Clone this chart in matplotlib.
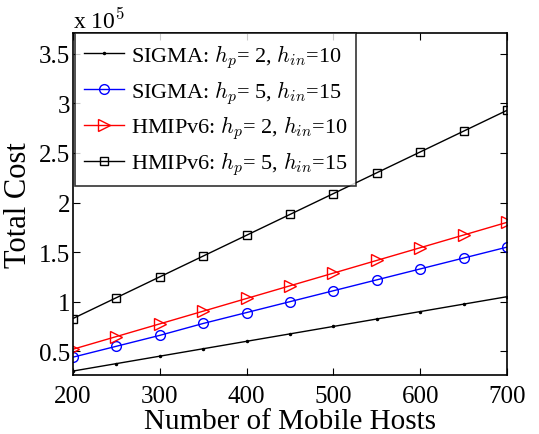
import numpy as np
import matplotlib
matplotlib.use("Agg")
import matplotlib.pyplot as plt
from matplotlib.ticker import FormatStrFormatter

plt.rcParams['font.family'] = ['Liberation Serif', 'DejaVu Serif']
plt.rcParams['mathtext.fontset'] = 'cm'

# number of mobile hosts
hosts = [200, 250, 300, 350, 400, 450, 500, 550, 600, 650, 700]

# total cost, in units of 1e5
sigma_2_10 = [0.30, 0.375, 0.45, 0.525, 0.60, 0.675, 0.75, 0.825, 0.90, 0.975, 1.05]
sigma_5_15 = [0.44, 0.55, 0.66, 0.78, 0.89, 1.00, 1.11, 1.22, 1.33, 1.44, 1.55]
hmip_2_10 = [0.52, 0.648, 0.776, 0.904, 1.032, 1.16, 1.288, 1.416, 1.544, 1.672, 1.80]
hmip_5_15 = [0.83, 1.04, 1.25, 1.46, 1.67, 1.88, 2.09, 2.30, 2.51, 2.72, 2.93]

labels = [r'SIGMA: $h_p$= 2, $h_{in}$=10',
          r'SIGMA: $h_p$= 5, $h_{in}$=15',
          r'HMIPv6: $h_p$= 2, $h_{in}$=10',
          r'HMIPv6: $h_p$= 5, $h_{in}$=15']

fig = plt.figure(figsize=(5.39, 4.35), dpi=100)
ax = fig.add_axes([0.1354, 0.1356, 0.8052, 0.7862])

ax.plot(hosts, sigma_2_10, color='black', lw=1, marker='.', ms=3, label=labels[0])
ax.plot(hosts, sigma_5_15, color='blue', lw=1, marker='o', ms=7, mfc='none', label=labels[1])
ax.plot(hosts, hmip_2_10, color='red', lw=1, marker='>', ms=8, mfc='none', label=labels[2])
ax.plot(hosts, hmip_5_15, color='black', lw=1, marker='s', ms=6, mfc='none', label=labels[3])

ax.set_xlim(200, 700)
ax.set_ylim(0.26, 3.71)
ax.set_xticks([200, 300, 400, 500, 600, 700])
ax.set_yticks([0.5, 1, 1.5, 2, 2.5, 3, 3.5])
ax.yaxis.set_major_formatter(FormatStrFormatter('%g'))
ax.tick_params(direction='in', top=True, right=True, labelsize=18, length=5, width=0.8)
ax.tick_params(axis='x', pad=7)
ax.tick_params(axis='y', pad=2)
for s in ax.spines.values():
    s.set_linewidth(1.2)

ax.set_xlabel('Number of Mobile Hosts', fontsize=21, labelpad=1)
ax.set_ylabel('Total Cost', fontsize=22, labelpad=4)

ax.text(0.0, 1.0, r'x 10$^5$', transform=ax.transAxes, fontsize=17,
        ha='left', va='bottom')

leg = ax.legend(loc='upper left', bbox_to_anchor=(0.005, 1.0), borderaxespad=0,
                fontsize=16, frameon=True, fancybox=False, edgecolor='black',
                handlelength=1.8, handletextpad=0.3, labelspacing=0.35,
                borderpad=0.4)
leg.get_frame().set_linewidth(1.2)

fig.savefig('out.png', dpi=100)
